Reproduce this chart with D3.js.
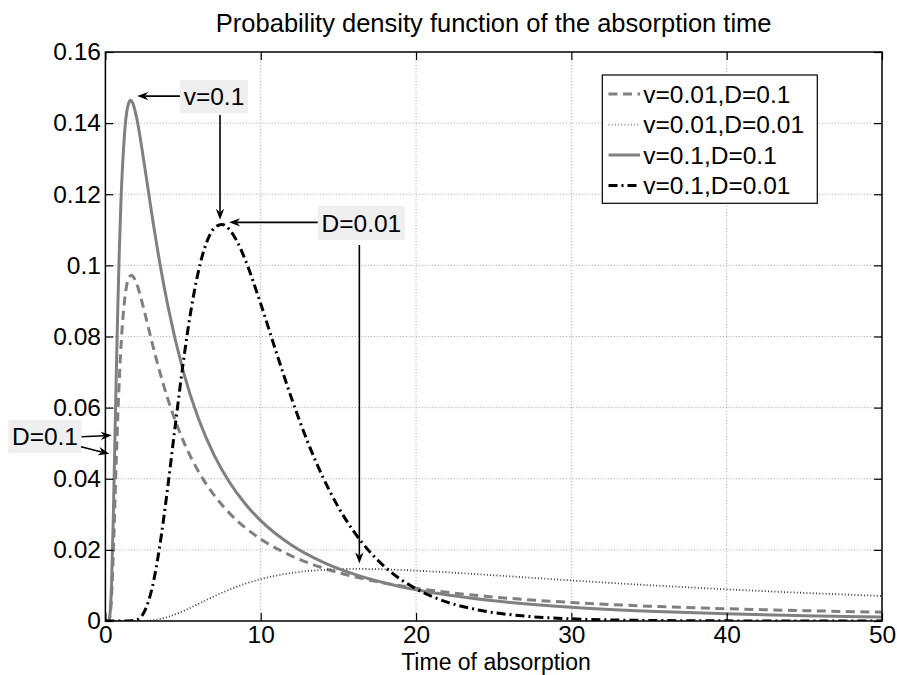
<!DOCTYPE html>
<html>
<head>
<meta charset="utf-8">
<script src="https://cdn.jsdelivr.net/npm/d3@7"></script>
<style>
  body { margin: 0; background: #fff; }
  svg text { font-family: "Liberation Sans", Arial, Helvetica, sans-serif; }
</style>
</head>
<body>
<svg id="chart" width="897" height="675"></svg>
<script>
// ---------------- data ----------------
const titleText = "Probability density function of the absorption time";
const xLabelText = "Time of absorption";

const xTicks = [0, 10, 20, 30, 40, 50];
const xTickLabels = ["0", "10", "20", "30", "40", "50"];
const yTicks = [0, 0.02, 0.04, 0.06, 0.08, 0.1, 0.12, 0.14, 0.16];
const yTickLabels = ["0", "0.02", "0.04", "0.06", "0.08", "0.1", "0.12", "0.14", "0.16"];

const seriesNames = ["v=0.01,D=0.1", "v=0.01,D=0.01", "v=0.1,D=0.1", "v=0.1,D=0.01"];

// v=0.01, D=0.1
const timeA = [0, 0.2, 0.3, 0.4, 0.5, 0.6, 0.7, 0.8, 0.9, 1, 1.25, 1.5, 1.67, 1.75, 2, 2.5, 3, 3.5, 4, 5, 6, 7, 8, 9, 10, 12, 14, 16, 18, 20, 25, 30, 35, 40, 45, 50];
const valsA = [0, 0.00004, 0.00137, 0.00716, 0.01787, 0.03129, 0.04501, 0.05759, 0.06827, 0.07696, 0.09079, 0.09638, 0.0972, 0.09705, 0.09495, 0.08723, 0.07838, 0.07006, 0.06269, 0.05081, 0.04200, 0.03537, 0.03026, 0.02625, 0.02304, 0.01827, 0.01492, 0.01248, 0.01064, 0.00921, 0.00675, 0.00521, 0.00418, 0.00345, 0.00291, 0.00249];

// v=0.01, D=0.01
const timeB = [0, 1.5, 2, 2.5, 3, 3.5, 4, 5, 6, 7, 8, 9, 10, 12, 14, 16, 18, 20, 22, 25, 30, 35, 40, 45, 50];
const valsB = [0, 0, 0.00001, 0.00005, 0.00021, 0.00056, 0.00111, 0.00277, 0.00483, 0.00694, 0.00885, 0.01048, 0.01177, 0.01352, 0.01437, 0.01464, 0.01452, 0.01417, 0.01369, 0.01286, 0.01141, 0.01007, 0.0089, 0.0079, 0.00704];

// v=0.1, D=0.1
const timeC = [0, 0.2, 0.3, 0.4, 0.5, 0.6, 0.7, 0.8, 0.9, 1, 1.25, 1.5, 1.62, 1.75, 2, 2.5, 3, 3.5, 4, 5, 6, 7, 8, 9, 10, 12, 14, 16, 18, 20, 25, 30, 35, 40, 45, 50];
const valsC = [0, 0.00006, 0.00213, 0.01111, 0.02768, 0.04834, 0.0694, 0.08852, 0.10475, 0.11775, 0.13806, 0.14565, 0.1464, 0.14576, 0.14172, 0.12859, 0.11413, 0.10075, 0.08905, 0.07042, 0.05678, 0.04664, 0.03893, 0.03295, 0.02821, 0.02129, 0.01655, 0.01318, 0.01069, 0.0088, 0.0057, 0.00389, 0.00276, 0.00201, 0.0015, 0.00113];

// v=0.1, D=0.01
const timeD = [0, 1, 1.5, 2, 2.5, 3, 3.5, 4, 4.5, 5, 5.5, 6, 6.5, 7, 7.5, 8, 8.5, 9, 10, 11, 12, 13, 14, 15, 16, 17, 18, 20, 22, 24, 27, 30, 35, 40, 45, 50];
const valsD = [0, 0, 0.00001, 0.00034, 0.00257, 0.00915, 0.02106, 0.03717, 0.05505, 0.07229, 0.08712, 0.09854, 0.10626, 0.11044, 0.11152, 0.11001, 0.10653, 0.10162, 0.0892, 0.07558, 0.06244, 0.05061, 0.04047, 0.032, 0.02511, 0.01958, 0.01519, 0.00904, 0.00532, 0.00311, 0.00138, 0.00061, 0.00016, 0.00004, 0.00001, 0];

// annotation labels and their anchor points (data units)
const annoLabels = ["v=0.1", "D=0.01", "D=0.1"];
const annoBoxes = [[4.80, 0.1521, 9.18, 0.1428], [13.67, 0.1167, 19.29, 0.1071], [-6.25, 0.0565, -1.53, 0.0472]];
const annoArrows = [
  [4.80, 0.1476, 2.05, 0.1476],
  [7.38, 0.1423, 7.38, 0.1128],
  [13.67, 0.1121, 7.96, 0.1121],
  [16.35, 0.1057, 16.35, 0.0162],
  [-1.53, 0.0518, 0.41, 0.0522],
  [-1.57, 0.0490, 0.25, 0.0470]
];

// ---------------- styles ----------------
const seriesStyles = [
  { stroke: "#808080", width: 3, dash: "9,5.5" },
  { stroke: "#3a3a3a", width: 1.8, dash: "1,2.2" },
  { stroke: "#808080", width: 3, dash: null },
  { stroke: "#000000", width: 3, dash: "9,4,2,4" }
];
const FONT = 24.5;

// ---------------- drawing ----------------
const svg = d3.select("#chart");
const plot = { left: 105.4, right: 882, top: 52, bottom: 621 };
const x = d3.scaleLinear().domain([0, 50]).range([plot.left, plot.right]);
const y = d3.scaleLinear().domain([0, 0.16]).range([plot.bottom, plot.top]);

svg.append("rect").attr("width", 897).attr("height", 675).attr("fill", "#fff");

// grid
const grid = svg.append("g").attr("stroke", "#a0a0a0").attr("stroke-width", 1).attr("stroke-dasharray", "1,2.2");
grid.selectAll("line.gx").data(xTicks.slice(1, -1)).join("line")
  .attr("x1", d => x(d)).attr("x2", d => x(d)).attr("y1", plot.top).attr("y2", plot.bottom);
grid.selectAll("line.gy").data(yTicks.slice(1, -1)).join("line")
  .attr("y1", d => y(d)).attr("y2", d => y(d)).attr("x1", plot.left).attr("x2", plot.right);

// curves
svg.append("clipPath").attr("id", "clip").append("rect")
  .attr("x", plot.left).attr("y", plot.top).attr("width", plot.right - plot.left).attr("height", plot.bottom - plot.top);

const seriesData = [
  d3.zip(timeA, valsA), d3.zip(timeB, valsB), d3.zip(timeC, valsC), d3.zip(timeD, valsD)
];
const line = d3.line().x(d => x(d[0])).y(d => y(d[1])).curve(d3.curveMonotoneX);
const curves = svg.append("g").attr("clip-path", "url(#clip)");
seriesData.forEach((data, i) => {
  const s = seriesStyles[i];
  curves.append("path").datum(data).attr("d", line)
    .attr("fill", "none").attr("stroke", s.stroke).attr("stroke-width", s.width)
    .attr("stroke-dasharray", s.dash).attr("stroke-linejoin", "round");
});

// axes
function styleAxis(g) {
  g.select(".domain").remove();
  g.attr("font-size", FONT).attr("font-family", null);
  g.selectAll(".tick line").attr("stroke", "#000").attr("stroke-width", 1.2);
  g.selectAll(".tick text").attr("fill", "#000");
}
svg.append("g").attr("transform", `translate(0,${plot.bottom})`)
  .call(d3.axisBottom(x).tickValues(xTicks).tickFormat((d, i) => xTickLabels[i]).tickSize(-8).tickPadding(5))
  .call(styleAxis);
svg.append("g").attr("transform", `translate(${plot.left},0)`)
  .call(d3.axisLeft(y).tickValues(yTicks).tickFormat((d, i) => yTickLabels[i]).tickSize(-8).tickPadding(4.5))
  .call(styleAxis);
svg.append("g").attr("transform", `translate(0,${plot.top})`)
  .call(d3.axisTop(x).tickValues(xTicks).tickFormat("").tickSize(-8))
  .call(styleAxis);
svg.append("g").attr("transform", `translate(${plot.right},0)`)
  .call(d3.axisRight(y).tickValues(yTicks).tickFormat("").tickSize(-8))
  .call(styleAxis);

svg.append("rect").attr("x", plot.left).attr("y", plot.top)
  .attr("width", plot.right - plot.left).attr("height", plot.bottom - plot.top)
  .attr("fill", "none").attr("stroke", "#000").attr("stroke-width", 1.5);

// title and label
svg.append("text").attr("x", (plot.left + plot.right) / 2).attr("y", 32.3)
  .attr("text-anchor", "middle").attr("font-size", 25.5).attr("fill", "#000").text(titleText);
svg.append("text").attr("x", 496).attr("y", 669.8)
  .attr("text-anchor", "middle").attr("font-size", 23).attr("fill", "#000").text(xLabelText);

// legend
const lg = svg.append("g");
lg.append("rect").attr("x", 602.3).attr("y", 75).attr("width", 215).attr("height", 128.3)
  .attr("fill", "#fff").attr("stroke", "#000").attr("stroke-width", 1.2);
seriesNames.forEach((name, i) => {
  const s = seriesStyles[i];
  const base = 102.7 + i * 30.45;
  lg.append("line").attr("x1", 608.5).attr("x2", 640).attr("y1", base - 8.6).attr("y2", base - 8.6)
    .attr("stroke", i === 1 ? "#8a8a8a" : s.stroke).attr("stroke-width", s.width).attr("stroke-dasharray", s.dash);
  lg.append("text").attr("x", 643.3).attr("y", base).attr("font-size", FONT).attr("fill", "#000").text(name);
});

// annotations
const ann = svg.append("g");
annoBoxes.forEach((b, i) => {
  const x0 = x(b[0]), x1 = x(b[2]), y0 = y(b[1]), y1 = y(b[3]);
  ann.append("rect").attr("x", x0).attr("y", y0).attr("width", x1 - x0).attr("height", y1 - y0)
    .attr("fill", "#efefef");
  ann.append("text").attr("x", (x0 + x1) / 2).attr("y", (y0 + y1) / 2).attr("dy", "0.36em")
    .attr("text-anchor", "middle").attr("font-size", FONT).attr("fill", "#000").text(annoLabels[i]);
});
annoArrows.forEach(a => {
  const x1 = x(a[0]), y1 = y(a[1]), x2 = x(a[2]), y2 = y(a[3]);
  const ang = Math.atan2(y2 - y1, x2 - x1);
  const L = 11, w = 4.2, c = Math.cos(ang), s = Math.sin(ang);
  ann.append("line").attr("x1", x1).attr("y1", y1)
    .attr("x2", x2 - (L - 3) * c).attr("y2", y2 - (L - 3) * s)
    .attr("stroke", "#000").attr("stroke-width", 1.6);
  const bx = x2 - L * c, by = y2 - L * s;
  const nx = x2 - 0.7 * L * c, ny = y2 - 0.7 * L * s;
  const p = d3.path();
  p.moveTo(x2, y2);
  p.lineTo(bx - w * s, by + w * c);
  p.lineTo(nx, ny);
  p.lineTo(bx + w * s, by - w * c);
  p.closePath();
  ann.append("path").attr("d", p.toString()).attr("fill", "#000");
});
</script>
</body>
</html>
